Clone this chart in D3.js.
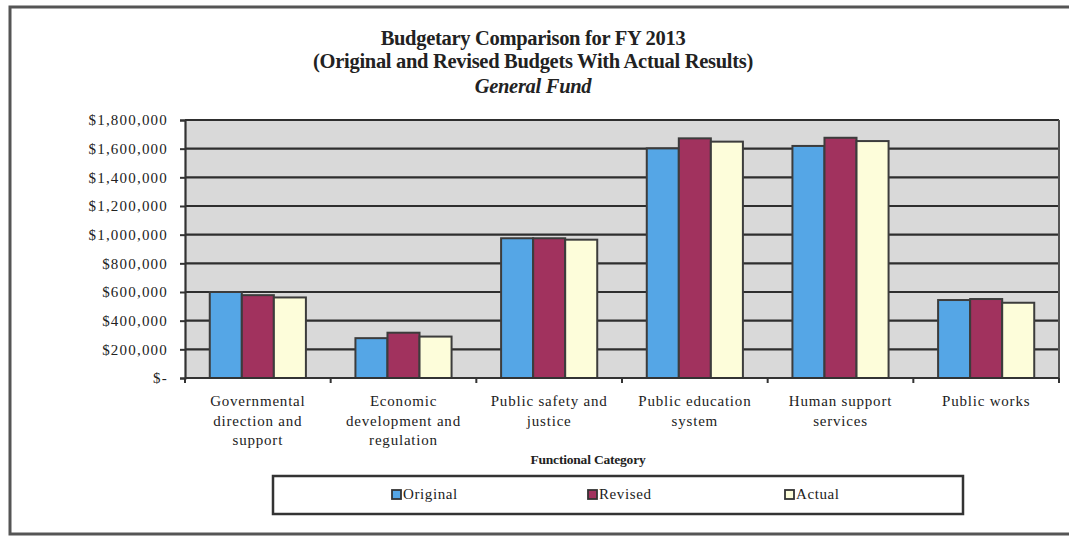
<!DOCTYPE html>
<html>
<head>
<meta charset="utf-8">
<script src="https://cdn.jsdelivr.net/npm/d3@7"></script>
<style>
  body { margin: 0; background: #fff; }
  text { font-family: "Liberation Serif", "Times New Roman", serif; fill: #222; }
</style>
</head>
<body>
<div id="chart-container"></div>
<script>
// Chart data
const categories = [
  "Governmental\ndirection and\nsupport",
  "Economic\ndevelopment and\nregulation",
  "Public safety and\njustice",
  "Public education\nsystem",
  "Human support\nservices",
  "Public works"
];
const seriesNames = ["Original", "Revised", "Actual"];
const original = [600000, 278000, 975000, 1602000, 1619000, 544000];
const revised = [578000, 316000, 975000, 1672000, 1676000, 551000];
const actual = [562000, 289000, 965000, 1649000, 1653000, 525000];
const yTicks = [0, 200000, 400000, 600000, 800000, 1000000, 1200000, 1400000, 1600000, 1800000];

(() => {
  const W = 1069, H = 537;
  const margin = { top: 120, right: 10, bottom: 159, left: 185 };
  const width = W - margin.left - margin.right;
  const height = H - margin.top - margin.bottom;
  const colors = { Original: "#55a6e6", Revised: "#a1325e", Actual: "#fdfdda" };

  const rows = categories.map((c, i) => ({
    cat: c,
    values: [
      { key: "Original", value: original[i] },
      { key: "Revised", value: revised[i] },
      { key: "Actual", value: actual[i] }
    ]
  }));

  const root = d3.select("#chart-container")
    .append("svg")
    .attr("width", W)
    .attr("height", H);

  // outer frame
  root.append("rect")
    .attr("x", 10).attr("y", 7)
    .attr("width", 1080).attr("height", 527)
    .attr("fill", "none")
    .attr("stroke", "#555")
    .attr("stroke-width", 3);

  // titles
  const titleLines = [
    { t: "Budgetary Comparison for FY 2013", y: 45, italic: false },
    { t: "(Original and Revised Budgets With Actual Results)", y: 68, italic: false },
    { t: "General Fund", y: 93, italic: true }
  ];
  root.selectAll(".title")
    .data(titleLines)
    .enter().append("text")
    .attr("x", 533).attr("y", d => d.y)
    .attr("text-anchor", "middle")
    .style("font-size", "20.5px").style("font-weight", "bold")
    .style("letter-spacing", "-0.3px")
    .style("font-style", d => d.italic ? "italic" : "normal")
    .text(d => d.t);

  const svg = root.append("g")
    .attr("transform", `translate(${margin.left},${margin.top})`);

  // scales
  const x0 = d3.scaleBand()
    .domain(categories)
    .range([0, width]);
  const gap = x0.bandwidth() * 0.17;
  const x1 = d3.scaleBand()
    .domain(seriesNames)
    .range([gap, x0.bandwidth() - gap]);
  const y = d3.scaleLinear()
    .domain([0, 1800000])
    .range([height, 0]);

  // plot background
  svg.append("rect")
    .attr("width", width).attr("height", height)
    .attr("fill", "#d9d9d9");

  // gridlines
  svg.selectAll(".grid")
    .data(yTicks)
    .enter().append("line")
    .attr("x1", 0).attr("x2", width)
    .attr("y1", d => y(d)).attr("y2", d => y(d))
    .attr("stroke", "#2e2e2e")
    .attr("stroke-width", 2.2);

  // right border
  svg.append("line")
    .attr("x1", width).attr("x2", width)
    .attr("y1", 0).attr("y2", height)
    .attr("stroke", "#555").attr("stroke-width", 2);

  // bars
  const groups = svg.selectAll(".group")
    .data(rows)
    .enter().append("g")
    .attr("transform", d => `translate(${x0(d.cat)},0)`);

  groups.selectAll("rect")
    .data(d => d.values)
    .enter().append("rect")
    .attr("x", d => x1(d.key))
    .attr("y", d => y(d.value))
    .attr("width", x1.bandwidth())
    .attr("height", d => height - y(d.value))
    .attr("fill", d => colors[d.key])
    .attr("stroke", "#3c3c3c")
    .attr("stroke-width", 2);

  // Y axis
  const fmt = d3.format("$,");
  const yAxis = d3.axisLeft(y)
    .tickValues(yTicks)
    .tickSize(5)
    .tickPadding(12)
    .tickFormat(d => d === 0 ? "$-" : fmt(d));
  const gy = svg.append("g").call(yAxis);
  gy.select(".domain").attr("stroke", "#333").attr("stroke-width", 2.2);
  gy.selectAll(".tick line").attr("stroke", "#333").attr("stroke-width", 2);
  gy.selectAll(".tick text")
    .style("font-family", "'Liberation Serif', serif")
    .style("font-size", "15px")
    .style("letter-spacing", "1.2px")
    .attr("fill", "#333");

  // X axis
  const gx = svg.append("g")
    .attr("transform", `translate(0,${height})`);
  gx.append("line")
    .attr("x1", 0).attr("x2", width)
    .attr("stroke", "#333").attr("stroke-width", 2.2);
  gx.selectAll(".xtick")
    .data(d3.range(categories.length + 1))
    .enter().append("line")
    .attr("x1", i => i * x0.step()).attr("x2", i => i * x0.step())
    .attr("y1", 0).attr("y2", 5)
    .attr("stroke", "#333").attr("stroke-width", 2);

  const labels = gx.selectAll(".xlabel")
    .data(categories)
    .enter().append("text")
    .attr("text-anchor", "middle")
    .attr("transform", d => `translate(${x0(d) + x0.bandwidth() / 2},0)`)
    .style("font-size", "15px")
    .style("letter-spacing", "0.8px")
    .attr("fill", "#333");
  labels.selectAll("tspan")
    .data(d => d.split("\n"))
    .enter().append("tspan")
    .attr("x", 0)
    .attr("y", (d, i) => 28 + i * 19.5)
    .text(d => d);

  // X axis title
  root.append("text")
    .attr("x", 588).attr("y", 464)
    .attr("text-anchor", "middle")
    .style("font-size", "13.5px").style("font-weight", "bold")
    .style("letter-spacing", "-0.2px")
    .text("Functional Category");

  // legend
  const legend = root.append("g");
  legend.append("rect")
    .attr("x", 273).attr("y", 476)
    .attr("width", 690).attr("height", 38)
    .attr("fill", "#fff")
    .attr("stroke", "#333")
    .attr("stroke-width", 2.5);
  const legendX = [392, 588, 785];
  const items = legend.selectAll(".item")
    .data(seriesNames)
    .enter().append("g")
    .attr("transform", (d, i) => `translate(${legendX[i]},490)`);
  items.append("rect")
    .attr("width", 9).attr("height", 9)
    .attr("fill", d => colors[d])
    .attr("stroke", "#333").attr("stroke-width", 1.8);
  items.append("text")
    .attr("x", 11).attr("y", 9)
    .style("font-size", "15px")
    .style("letter-spacing", "0.6px")
    .attr("fill", "#333")
    .text(d => d);
})();
</script>
</body>
</html>
